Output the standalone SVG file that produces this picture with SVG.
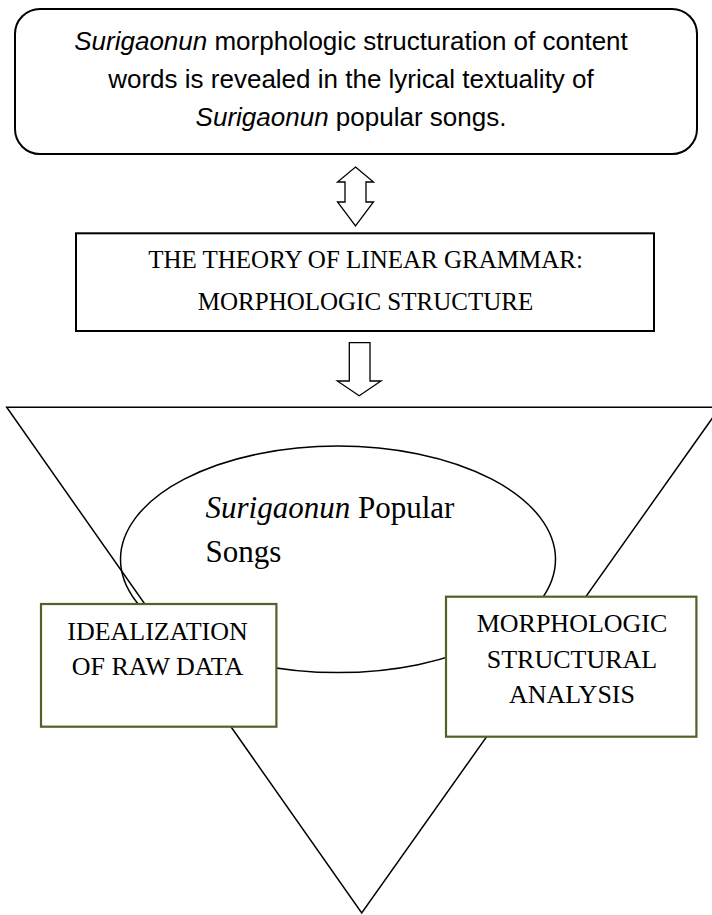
<svg xmlns="http://www.w3.org/2000/svg" width="712" height="915" viewBox="0 0 712 915">
<style>
.ln{fill:none;stroke:#000;stroke-width:1.5}
.bx{fill:#fff;stroke:#000;stroke-width:2}
.gb{fill:#fff;stroke:#4f6228;stroke-width:2.2}
.ar{fill:#fff;stroke:#000;stroke-width:1.3;stroke-linejoin:miter}
.sans{font-family:"Liberation Sans",Arial,sans-serif;font-size:26px;fill:#000;text-anchor:middle}
.serif{font-family:"Liberation Serif","Times New Roman",serif;font-size:25px;fill:#000;text-anchor:middle}
.big{font-family:"Liberation Serif","Times New Roman",serif;font-size:31px;fill:#000}
.box{font-family:"Liberation Serif","Times New Roman",serif;font-size:26px;fill:#000;text-anchor:middle}
</style>
<rect width="712" height="915" fill="#fff"/>
<g id="triangle">
<polygon class="ln" points="6.7,407.3 720,407.3 361.7,913"/>
</g>
<g id="songs-node">
<ellipse class="ln" cx="338" cy="559.3" rx="217.5" ry="113.3"/>
<text class="big" x="205.5" y="518"><tspan font-style="italic">Surigaonun</tspan> Popular</text>
<text class="big" x="205.5" y="562">Songs</text>
</g>
<g id="top-node">
<rect class="bx" x="15" y="9" width="682" height="145" rx="25" ry="25"/>
<text class="sans" x="351" y="50"><tspan font-style="italic">Surigaonun</tspan> morphologic structuration of content</text>
<text class="sans" x="351" y="88">words is revealed in the lyrical textuality of</text>
<text class="sans" x="351" y="126"><tspan font-style="italic">Surigaonun</tspan> popular songs.</text>
</g>
<g id="theory-node">
<rect class="bx" x="76" y="233.3" width="578" height="97.7"/>
<text class="serif" x="365.5" y="267.5">THE THEORY OF LINEAR GRAMMAR:</text>
<text class="serif" x="365.5" y="310">MORPHOLOGIC STRUCTURE</text>
</g>
<g id="idealization-node">
<rect class="gb" x="41" y="604" width="235.4" height="122.7"/>
<text class="box" x="157.5" y="639.5">IDEALIZATION</text>
<text class="box" x="157.5" y="675">OF RAW DATA</text>
</g>
<g id="analysis-node">
<rect class="gb" x="446" y="596.7" width="250.4" height="140"/>
<text class="box" x="572" y="631.7">MORPHOLOGIC</text>
<text class="box" x="572" y="668.3">STRUCTURAL</text>
<text class="box" x="572" y="703.3">ANALYSIS</text>
</g>
<g id="connectors">
<path class="ar" d="M355.5,167 L373.5,182 L366,182 L366,202 L373.5,202 L355.5,226 L337.5,202 L345,202 L345,182 L337.5,182 Z"/>
<path class="ar" d="M349.3,342.7 H370 V381 H381 L359.2,395.7 L337.3,381 H349.3 Z"/>
</g>
</svg>
